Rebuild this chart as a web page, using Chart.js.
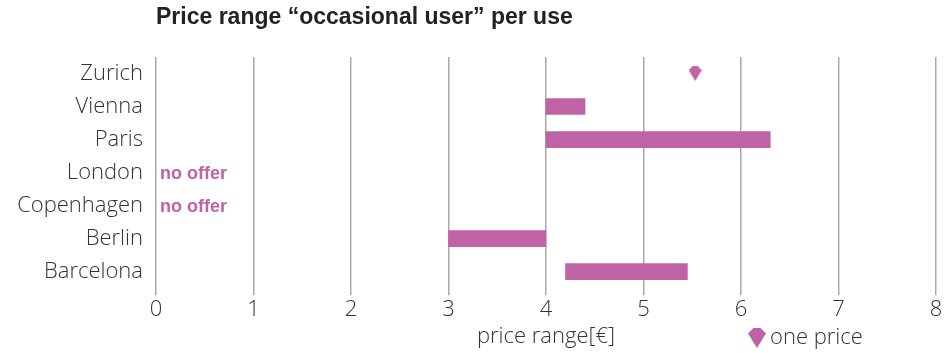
<!DOCTYPE html>
<html>
<head>
<meta charset="utf-8">
<script src="https://cdn.jsdelivr.net/npm/chart.js@4.4.1/dist/chart.umd.min.js"></script>
<style>
  html, body { margin: 0; padding: 0; background: #fff; }
  #wrap { width: 944px; height: 353px; }
</style>
</head>
<body>
<div id="wrap"><canvas id="priceChart"></canvas></div>
<script>
  // Cities, top to bottom
  const cities = ['Zurich', 'Vienna', 'Paris', 'London', 'Copenhagen', 'Berlin', 'Barcelona'];
  // Price range per use in EUR (low / high end), null = no range
  const rangeLow = [null, 4, 4, null, null, 3, 4.2];
  const rangeHigh = [null, 4.4, 6.3, null, null, 4, 5.45];
  // Cities with only one price
  const onePrice = [5.53, null, null, null, null, null, null];
  // Cities without an occasional-user offer
  const noOffer = [false, false, false, true, true, false, false];
  const xTicks = [0, 1, 2, 3, 4, 5, 6, 7, 8];

  const pink = '#c062a6';
  const textColor = '#333333';
  const lightFont = '"Open Sans", Roboto, sans-serif';
  const boldFont = '"Liberation Sans", Arial, sans-serif';

  // Cut-gem marker used for single prices
  function gemMarker(w, h) {
    const c = document.createElement('canvas');
    c.width = w;
    c.height = h;
    const g = c.getContext('2d');
    g.fillStyle = pink;
    g.beginPath();
    g.moveTo(w * 0.3, 0);
    g.lineTo(w * 0.7, 0);
    g.lineTo(w, h * 0.28);
    g.lineTo(w * 0.5, h);
    g.lineTo(0, h * 0.28);
    g.closePath();
    g.fill();
    return c;
  }
  const gemSmall = gemMarker(13, 15);
  const gemLegend = gemMarker(18, 20);

  const ranges = rangeLow.map((lo, i) => (lo === null ? null : [lo, rangeHigh[i]]));

  const extras = {
    id: 'extras',
    afterDraw(chart) {
      const ctx = chart.ctx;
      const area = chart.chartArea;
      const x = chart.scales.x;
      const y = chart.scales.y;
      ctx.save();

      // heading
      ctx.fillStyle = '#222';
      ctx.font = 'bold 23px ' + boldFont;
      ctx.textAlign = 'left';
      ctx.textBaseline = 'middle';
      ctx.fillText('Price range \u201coccasional user\u201d per use', area.left, 18);

      // no offer notes
      ctx.fillStyle = pink;
      ctx.font = 'bold 18px ' + boldFont;
      noOffer.forEach((flag, i) => {
        if (flag) ctx.fillText('no offer', x.getPixelForValue(0) + 4, y.getPixelForValue(i) + 1);
      });

      // legend entry for the single-price marker
      const lx = area.left + 601;
      const ly = 338;
      ctx.drawImage(gemLegend, lx - 9, ly - 10);
      ctx.fillStyle = textColor;
      ctx.font = '300 22px ' + lightFont;
      ctx.fillText('one price', lx + 13, ly);
      ctx.restore();
    }
  };

  new Chart(document.getElementById('priceChart'), {
    type: 'bar',
    data: {
      labels: cities,
      datasets: [
        {
          label: 'price range',
          data: ranges,
          backgroundColor: pink,
          barThickness: 16,
          borderSkipped: false
        },
        {
          type: 'line',
          label: 'one price',
          indexAxis: 'y',
          data: onePrice,
          showLine: false,
          pointStyle: gemSmall,
          pointRadius: 7
        }
      ]
    },
    options: {
      indexAxis: 'y',
      responsive: true,
      maintainAspectRatio: false,
      animation: false,
      layout: { padding: { top: 57, bottom: 3, left: 0, right: 0 } },
      plugins: {
        legend: { display: false },
        tooltip: { enabled: false }
      },
      scales: {
        x: {
          type: 'linear',
          min: 0,
          max: 8,
          afterBuildTicks: (scale) => {
            scale.ticks = xTicks.map(v => ({ value: v }));
          },
          border: { display: false },
          grid: { color: '#a9a9a9', lineWidth: 1.5, tickLength: 7 },
          ticks: {
            color: textColor,
            padding: 1,
            font: { family: lightFont, size: 22, weight: 300 }
          },
          title: {
            display: true,
            text: 'price range[\u20ac]',
            color: textColor,
            padding: { top: 0, bottom: 0 },
            font: { family: lightFont, size: 22, weight: 300 }
          }
        },
        y: {
          border: { display: false },
          grid: { display: false },
          afterFit: (scale) => { scale.width = 156; },
          ticks: {
            color: textColor,
            padding: 5,
            font: { family: lightFont, size: 22, weight: 300 }
          }
        }
      }
    },
    plugins: [extras]
  });
</script>
</body>
</html>
